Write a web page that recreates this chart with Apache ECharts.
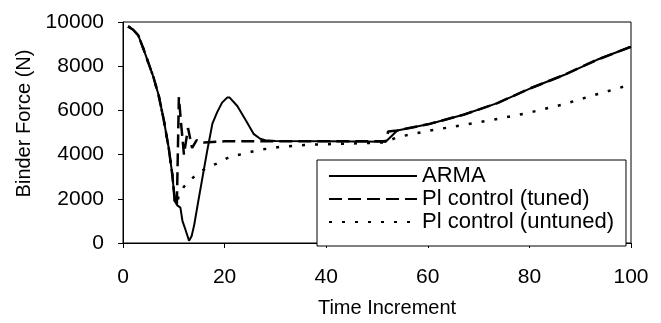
<!DOCTYPE html>
<html>
<head>
<meta charset="utf-8">
<script src="https://cdn.jsdelivr.net/npm/echarts@6/dist/echarts.min.js"></script>
<style>
html,body{margin:0;padding:0;background:#fff;}
#c{width:661px;height:323px;}
</style>
</head>
<body>
<div id="c"></div>
<script>
const armaX = [1,2,3,4,5,6,7,8,9,9.7,10.2,10.7,11.3,11.7,12.3,13,13.5,14,14.9,15.9,16.6,17.6,18.5,19.5,20.5,21,22.5,24.4,25.7,27,28,30,40,51.7,54,60.5,67,73.7,80.2,86.8,93.3,100];
const armaY = [9800,9650,9400,8800,8150,7500,6700,5600,4300,3100,1900,1700,1600,1000,600,100,300,800,2000,3300,4200,5400,5900,6350,6580,6580,6200,5460,4940,4720,4650,4620,4600,4580,5090,5400,5800,6330,7000,7600,8290,8880];
const tunedX = [1,2,3,4,5,6,7,8,9,9.7,10.2,10.6,11,11.4,12,12.8,13.6,14.5,16,20,30,40,51.7,52.2,54,60.5,67,73.7,80.2,86.8,93.3,100];
const tunedY = [9800,9650,9400,8800,8150,7500,6700,5600,4300,3100,1900,1700,6600,5500,4000,5200,4300,4650,4550,4600,4600,4600,4600,5050,5090,5400,5800,6330,7000,7600,8290,8880];
const untunedX = [1,2,3,4,5,6,7,8,9,9.7,10.2,10.6,11,12,13.3,14.5,16.3,18.5,21,24,26.4,31,37,45,51.5,54,60.5,67,73.7,80.2,86.8,93.3,100];
const untunedY = [9800,9650,9400,8800,8150,7500,6700,5600,4300,3100,1900,1700,2200,2550,2860,3100,3380,3600,3900,4050,4200,4350,4450,4500,4550,4790,5090,5340,5610,5910,6280,6730,7170];
const seriesNames = ['ARMA','Pl control (tuned)','Pl control (untuned)'];
const xTitle = 'Time Increment';
const yTitle = 'Binder Force (N)';

const zip = (xs, ys) => xs.map((x, i) => [x, ys[i]]);
const FONT = '"Liberation Sans", Arial, Helvetica, sans-serif';

const chart = echarts.init(document.getElementById('c'), null, {renderer: 'canvas'});
chart.setOption({
  animation: false,
  backgroundColor: '#fff',
  grid: {left: 123, right: 30, top: 22, bottom: 77, show: true, borderColor: '#000', borderWidth: 1, backgroundColor: 'transparent'},
  legend: {
    orient: 'vertical',
    left: 317, top: 160,
    data: seriesNames,
    itemWidth: 88, itemHeight: 14, itemGap: 1,
    padding: [5, 12, 13, 11],
    borderColor: '#000', borderWidth: 1,
    backgroundColor: '#fff',
    itemStyle: {opacity: 0},
    textStyle: {fontFamily: FONT, fontSize: 22, color: '#000', lineHeight: 22}
  },
  xAxis: {
    type: 'value', min: 0, max: 100, interval: 20,
    name: xTitle, nameLocation: 'middle', nameGap: 55,
    nameTextStyle: {fontFamily: FONT, fontSize: 20, color: '#000', padding: [0, 0, 0, 20]},
    axisLine: {lineStyle: {color: '#000', width: 1}},
    axisTick: {show: true, inside: false, length: 5, lineStyle: {color: '#000'}},
    axisLabel: {fontFamily: FONT, fontSize: 21, color: '#000', margin: 24},
    splitLine: {show: false}
  },
  yAxis: {
    type: 'value', min: 0, max: 10000, interval: 2000,
    name: yTitle, nameLocation: 'middle', nameGap: 85, nameRotate: 90,
    nameTextStyle: {fontFamily: FONT, fontSize: 20, color: '#000', padding: [0, 0, 0, 18]},
    axisLine: {show: true, lineStyle: {color: '#000', width: 1}},
    axisTick: {show: true, inside: false, length: 5, lineStyle: {color: '#000'}},
    axisLabel: {fontFamily: FONT, fontSize: 21, color: '#000', margin: 19, formatter: v => String(v)},
    splitLine: {show: false}
  },
  series: [
    {name: seriesNames[0], type: 'line', data: zip(armaX, armaY), symbol: 'none', z: 3,
     lineStyle: {color: '#000', width: 2, type: 'solid'}, itemStyle: {color: '#000'}},
    {name: seriesNames[1], type: 'line', data: zip(tunedX, tunedY), symbol: 'none', z: 2,
     lineStyle: {color: '#000', width: 2.5, type: [13, 6]}, itemStyle: {color: '#000'}},
    {name: seriesNames[2], type: 'line', data: zip(untunedX, untunedY), symbol: 'none', z: 2,
     lineStyle: {color: '#000', width: 2.5, type: [3, 10]}, itemStyle: {color: '#000'}}
  ]
});
</script>
</body>
</html>
